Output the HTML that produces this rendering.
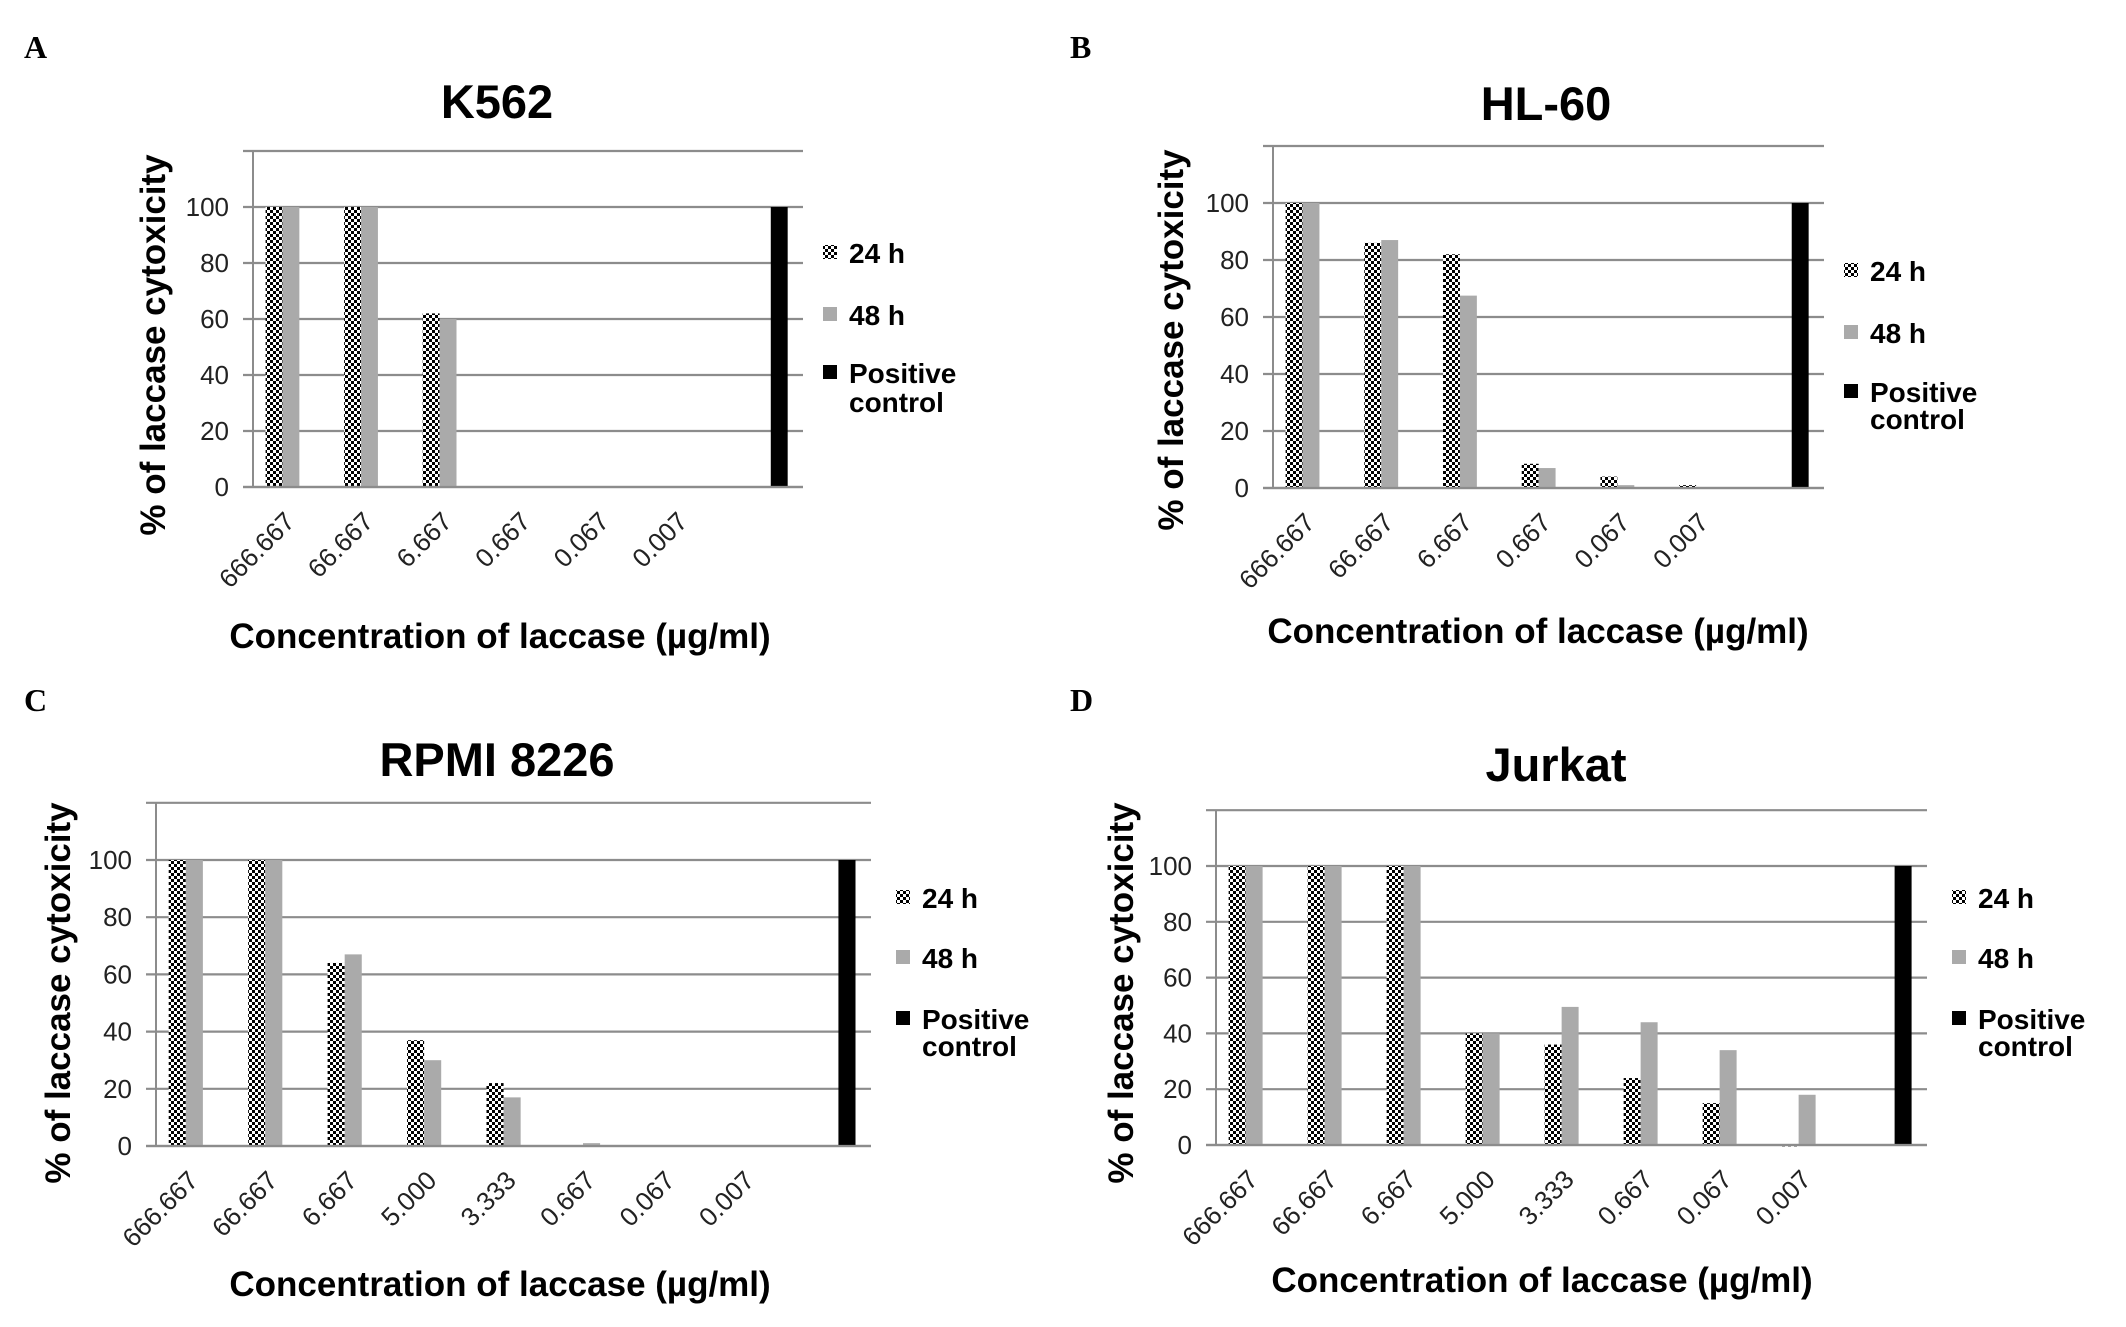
<!DOCTYPE html>
<html><head><meta charset="utf-8"><style>
html,body{margin:0;padding:0;background:#fff;}
svg{display:block;}
text{font-family:"Liberation Sans",Arial,sans-serif;}
</style></head><body>
<svg id="fig" xmlns="http://www.w3.org/2000/svg" width="2126" height="1327" viewBox="0 0 2126 1327">
<defs>
<pattern id="chk" patternUnits="userSpaceOnUse" width="6" height="6">
<rect width="6" height="6" fill="#fff"/><rect width="3" height="3" fill="#000"/><rect x="3" y="3" width="3" height="3" fill="#000"/>
</pattern>
</defs>
</svg>
<script>
// ---- data ----
const catsA = ["666.667","66.667","6.667","0.667","0.067","0.007"];
const h24A = [100,100,62,0,0,0];
const h48A = [100,100,60,0,0,0];
const catsB = ["666.667","66.667","6.667","0.667","0.067","0.007"];
const h24B = [100,86,82,8.5,4,1];
const h48B = [100,87,67.5,7,1,0];
const catsC = ["666.667","66.667","6.667","5.000","3.333","0.667","0.067","0.007"];
const h24C = [100,100,64,37,22,0,0,0];
const h48C = [100,100,67,30,17,1,0,0];
const catsD = ["666.667","66.667","6.667","5.000","3.333","0.667","0.067","0.007"];
const h24D = [100,100,100,40,36,24,15,-0.5];
const h48D = [100,100,100,40,49.5,44,34,18];
const posControl = 100;
const yTicks = [0,20,40,60,80,100];
const yMax = 120;
const legendLabels = ["24 h","48 h"];
const titles = ["K562","HL-60","RPMI 8226","Jurkat"];
const panelLetters = ["A","B","C","D"];

const NS = "http://www.w3.org/2000/svg";
const svg = document.getElementById("fig");
function mk(tag, attrs, parent, txt){
  const e = document.createElementNS(NS, tag);
  for (const k in attrs) e.setAttribute(k, attrs[k]);
  if (txt !== undefined) e.textContent = txt;
  (parent||svg).appendChild(e);
  return e;
}

const panels = [
 {cats:catsA,a:h24A,b:h48A,L:253,R:803,zero:487,y100:207,tx:497,ty:102,lx:823,ly:[253,315,373,402],ylx:153,yly:345,xlx:500,xly:636,px:24,py:47},
 {cats:catsB,a:h24B,b:h48B,L:1273,R:1824,zero:488,y100:203,tx:1546,ty:104,lx:1844,ly:[271,333,392,419],ylx:1171,yly:340,xlx:1538,xly:631,px:1070,py:47},
 {cats:catsC,a:h24C,b:h48C,L:156,R:871,zero:1146,y100:860,tx:497,ty:760,lx:896,ly:[898,958,1019,1046],ylx:58,yly:993,xlx:500,xly:1284,px:24,py:700},
 {cats:catsD,a:h24D,b:h48D,L:1216,R:1927,zero:1145,y100:866,tx:1556,ty:765,lx:1952,ly:[898,958,1019,1046],ylx:1121,yly:993,xlx:1542,xly:1280,px:1070,py:700}
];

panels.forEach((p, pi) => {
  const g = mk("g", {});
  
  
  const yScale = v => p.zero - (p.zero - p.y100) * v / 100;
  const n = p.cats.length + 1;
  const W = (p.R - p.L) / n;
  const bw = W * 0.215, m = W * 0.16;
  const xSlot = (i, s) => p.L + i * W + m + s * bw;

  const letter = mk("text", {x:p.px, y:p.py+11, style:"font-family:'Liberation Serif',serif;font-weight:bold;font-size:32px"}, g, panelLetters[pi]);
  
  

  const t = mk("text", {x:p.tx, y:p.ty+16, "text-anchor":"middle", "font-weight":"bold", "font-size":"47"}, g, titles[pi]);
  
  

  const grid = [...yTicks, yMax];
  grid.forEach(v => {
    const y = yScale(v);
    const l = mk("line", {x1:p.L-10, x2:p.R, y1:y, y2:y, stroke:"#8c8c8c", "stroke-width":"2.2"}, g);
    
    
  });
  yTicks.forEach(v => {
    const tl = mk("text", {x:p.L-24, y:yScale(v)+9, "text-anchor":"end", "font-size":"26", fill:"#222"}, g, String(v));
    
    
  });
  const ax = mk("line", {x1:p.L, x2:p.L, y1:yScale(yMax), y2:p.zero, stroke:"#8c8c8c", "stroke-width":"2"}, g);
  
  

  p.cats.forEach((c, i) => {
    const va = p.a[i], vb = p.b[i];
    const yb = yScale(Math.max(vb,0));
    const ra = mk("rect", {x:xSlot(i,0), y:Math.min(p.zero, yScale(va)), width:bw, height:Math.max(Math.abs(p.zero-yScale(va)),0.1), fill:"url(#chk)"}, g);
    
    
    const rb = mk("rect", {x:xSlot(i,1), y:yb, width:bw, height:Math.max(p.zero-yb,0.1), fill:"#aaaaaa"}, g);
    
    
    const cx = p.L + i*W + W/2;
    const xl = mk("text", {x:cx+4, y:p.zero+36, "text-anchor":"end", "font-size":"26", fill:"#222", transform:`rotate(-45 ${cx+4} ${p.zero+36})`}, g, c);
    
    
  });
  const yp = yScale(posControl);
  const pc = mk("rect", {x:xSlot(n-1,2), y:yp, width:bw, height:p.zero-yp, fill:"#000"}, g);
  
  
  const zl = mk("line", {x1:p.L-10, x2:p.R, y1:p.zero, y2:p.zero, stroke:"#8c8c8c", "stroke-width":"2.2"}, g);
  
  

  const fills = ["url(#chk)", "#aaaaaa", "#000"];
  const leg = mk("g", {}, g);
  
  
  [0,1,2].forEach(k => {
    const sw = mk("rect", {x:p.lx, y:p.ly[k]-8, width:14, height:14, fill:fills[k]}, leg);
    
    
  });
  [0,1].forEach(k => {
    const lt = mk("text", {x:p.lx+26, y:p.ly[k]+10, "font-weight":"bold", "font-size":"28"}, leg, legendLabels[k]);
    
    
  });
  const lp = mk("text", {x:p.lx+26, y:p.ly[2]+10, "font-weight":"bold", "font-size":"28"}, leg, "Positive");
  
  
  const lc = mk("text", {x:p.lx+26, y:p.ly[3]+10, "font-weight":"bold", "font-size":"28"}, leg, "control");
  
  

  const yt = mk("text", {x:p.ylx+12, y:p.yly, "text-anchor":"middle", "font-weight":"bold", "font-size":"35", transform:`rotate(-90 ${p.ylx+12} ${p.yly})`}, g, "% of laccase cytoxicity");
  
  
  const xt = mk("text", {x:p.xlx, y:p.xly+12, "text-anchor":"middle", "font-weight":"bold", "font-size":"35"}, g, "Concentration of laccase (µg/ml)");
  
  
});
</script>
</body></html>
